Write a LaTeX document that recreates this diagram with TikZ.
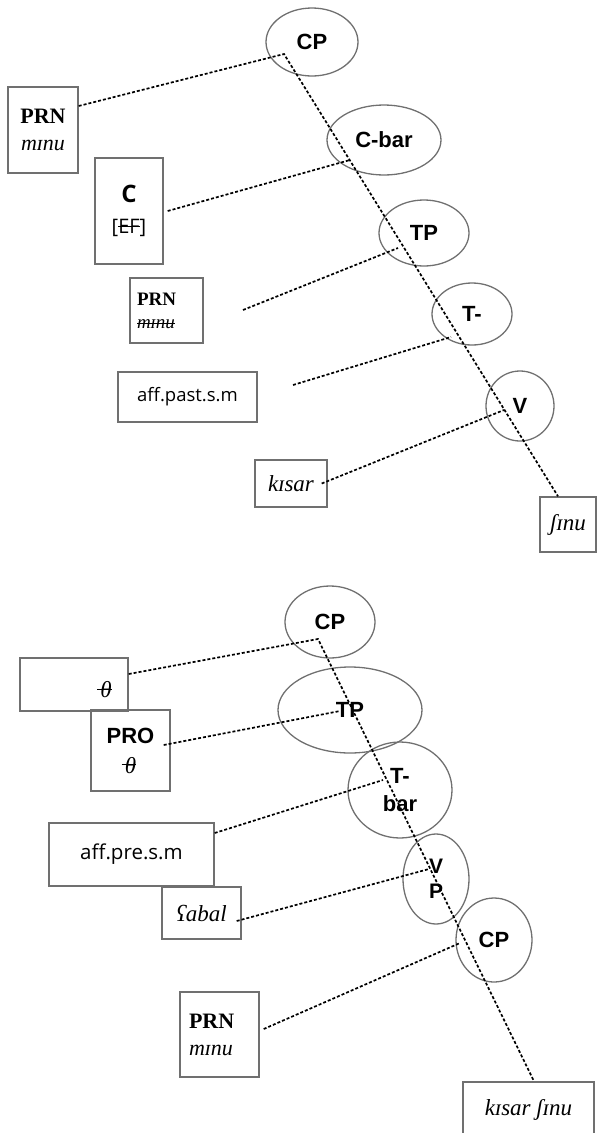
\documentclass[tikz,border=0pt]{standalone}
\usepackage{fontspec}
\setmainfont{Liberation Serif}
\newfontfamily\lsans{Liberation Sans}
\newfontfamily\osans{Open Sans}
\usetikzlibrary{shapes.geometric}
\definecolor{edgegray}{HTML}{707070}
\newsavebox\strkbox
\newcommand\strk[2]{\leavevmode\sbox\strkbox{#2}\rlap{\rule[#1]{\wd\strkbox}{0.07em}}\usebox\strkbox}
\newcommand\thstrk{\leavevmode\rlap{\kern-0.14em\rule[0.33em]{0.64em}{0.07em}}\textit{θ}}
\tikzset{
  ell/.style={ellipse, draw=edgegray, line width=1.3pt, inner sep=0pt, align=center,
    font=\lsans\bfseries\fontsize{22}{26}\selectfont},
  bx/.style={rectangle, draw=edgegray, line width=1.4pt, inner sep=0pt},
  link/.style={line width=1.7pt, dash pattern=on 3pt off 2pt},
}
\begin{document}
\begin{tikzpicture}[x=1pt,y=-1pt]
\useasboundingbox (0,0) rectangle (597,1133);
% ---------- top tree ----------
\node[ell, minimum width=92, minimum height=68] (cp1) at (312,42) {CP};
\node[ell, minimum width=114, minimum height=70] (cbar) at (384,140) {C-bar};
\node[ell, minimum width=90, minimum height=66] (tp1) at (424,233) {TP};
\node[ell, minimum width=80, minimum height=62] (tm) at (472,314) {T-};
\node[ell, minimum width=68, minimum height=70] (v1) at (520,406) {V};

\node[bx, minimum width=70, minimum height=86, align=center,
  font=\fontsize{22}{27}\selectfont] (prn1) at (43,130) {\textbf{PRN}\\\textit{mɪnu}};
\node[bx, minimum width=68, minimum height=106, align=center,
  font=\fontsize{20}{24}\selectfont] (cbox) at (129,211)
  {{\osans\bfseries\fontsize{24}{28}\selectfont C}\\[7pt]{\osans [\strk{0.33em}{EF}]}};
\node[bx, minimum width=73, minimum height=65, align=left, text width=59,
  font=\fontsize{19}{23}\selectfont] (prn2) at (166.5,310.5)
  {\textbf{PRN}\\\strk{0.2em}{\textit{mɪnu}}};
\node[bx, minimum width=139, minimum height=50,
  font=\osans\fontsize{18.5}{22}\selectfont] (affpast) at (187.5,397) {aff.past.s.m};
\node[bx, minimum width=72, minimum height=47,
  font=\itshape\fontsize{23}{26}\selectfont] (kisar) at (291,483.5) {kɪsar};
\node[bx, minimum width=56, minimum height=55,
  font=\itshape\fontsize{23}{26}\selectfont] (shinu) at (568,524.5) {ʃɪnu};

\coordinate (k1) at (284,54);
\coordinate (e2) at (350,160);
\coordinate (s3) at (243,310);
\coordinate (e3) at (398,248);
\coordinate (s4) at (293,385);
\coordinate (e4) at (451,337);
\coordinate (e5) at (504,410);
\draw[link] ([yshift=24pt]prn1.east) -- (k1) -- ([xshift=-10pt]shinu.north);
\draw[link] ([xshift=4pt]cbox.east) -- (e2);
\draw[link] (s3) -- (e3);
\draw[link] (s4) -- (e4);
\draw[link] ([xshift=-6pt]kisar.east) -- (e5);

% ---------- bottom tree ----------
\node[ell, minimum width=90, minimum height=72] (cp2) at (330,622) {CP};
\node[ell, minimum width=144, minimum height=86] (tp2) at (350,710) {TP};
\node[ell, minimum width=104, minimum height=96,
  font=\lsans\bfseries\fontsize{22}{28}\selectfont] (tbar) at (400,790) {T-\\bar};
\node[ell, minimum width=66, minimum height=90,
  font=\lsans\bfseries\fontsize{21}{25}\selectfont] (vp) at (436,879) {V\\P};
\node[ell, minimum width=76, minimum height=84] (cp3) at (494,940) {CP};

\node[bx, minimum width=108, minimum height=53] (thbox) at (74,684.5) {};
\node[font=\fontsize{23}{26}\selectfont, inner sep=0pt] (th1) at (106,690) {\thstrk};
\node[bx, minimum width=79, minimum height=81, align=center,
  font=\fontsize{22}{26}\selectfont] (pro) at (130.5,750.5)
  {{\lsans\bfseries PRO}\\[4pt]{\fontsize{23}{26}\selectfont\thstrk}};
\node[bx, minimum width=165, minimum height=63,
  font=\osans\fontsize{20.5}{24}\selectfont] (affpre) at (131.5,854.5) {aff.pre.s.m};
\node[bx, minimum width=79, minimum height=52,
  font=\itshape\fontsize{23}{26}\selectfont] (abal) at (201.5,913) {ʕabal};
\node[bx, minimum width=79, minimum height=85, align=left, text width=61,
  font=\fontsize{22}{27}\selectfont] (prn3) at (219.5,1034.5) {\textbf{PRN}\\\textit{mɪnu}};
\node[bx, minimum width=131, minimum height=56,
  font=\itshape\fontsize{23}{26}\selectfont] (kshinu) at (528.5,1110) {kɪsar ʃɪnu};

\coordinate (k6) at (318,639);
\coordinate (e7) at (340,711);
\coordinate (e8) at (383,780);
\coordinate (e9) at (429,869);
\coordinate (e10) at (460,943);
\draw[link] ([yshift=10.5pt]thbox.east) -- (k6) -- ([xshift=5.5pt]kshinu.north);
\draw[link] ([xshift=-7pt,yshift=5.5pt]pro.east) -- (e7);
\draw[link] ([yshift=21.5pt]affpre.east) -- (e8);
\draw[link] ([xshift=-5pt,yshift=-8pt]abal.east) -- (e9);
\draw[link] ([xshift=4pt,yshift=5.5pt]prn3.east) -- (e10);
\end{tikzpicture}
\end{document}
